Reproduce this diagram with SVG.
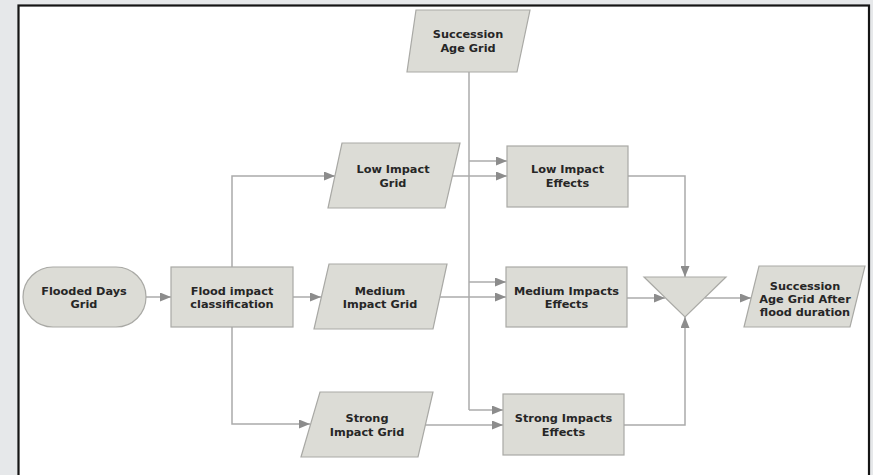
<svg xmlns="http://www.w3.org/2000/svg" width="873" height="475" viewBox="0 0 873 475">
  <style>
    .node { fill: #dcdcd6; stroke: #a9a9a5; stroke-width: 1.2; }
    .label { font-family: "DejaVu Sans", Verdana, sans-serif; font-weight: bold; font-size: 11.3px; fill: #262626; text-anchor: middle; }
    .wire { fill: none; stroke: #ababab; stroke-width: 1.5; }
    .arrow { marker-end: url(#head); }
  </style>
  <defs>
    <marker id="head" markerUnits="userSpaceOnUse" markerWidth="12" markerHeight="9" refX="11" refY="4.5" orient="auto">
      <path d="M0,0 L11,4.5 L0,9 z" fill="#8c8c8c"/>
    </marker>
  </defs>

  <!-- page backdrop and frame -->
  <rect x="0" y="0" width="873" height="475" fill="#e6e8ea"/>
  <rect x="18.5" y="5.5" width="850.5" height="480" fill="#ffffff" stroke="#151515" stroke-width="2.2"/>

  <!-- connectors -->
  <g id="connectors">
    <path class="wire arrow" d="M146,297 H171"/>
    <path class="wire arrow" d="M232,267 V176 H335"/>
    <path class="wire arrow" d="M293,297 H321"/>
    <path class="wire arrow" d="M232,327 V424 H310"/>
    <path class="wire" d="M469,72 V410"/>
    <path class="wire arrow" d="M469,161 H507"/>
    <path class="wire arrow" d="M469,282 H506"/>
    <path class="wire arrow" d="M469,410 H503"/>
    <path class="wire arrow" d="M452,176 H507"/>
    <path class="wire arrow" d="M440,297 H506"/>
    <path class="wire arrow" d="M425,425 H503"/>
    <path class="wire arrow" d="M628,176 H685 V277"/>
    <path class="wire arrow" d="M627,298 H665"/>
    <path class="wire arrow" d="M624,425 H685 V317"/>
    <path class="wire arrow" d="M705,298 H751"/>
  </g>

  <g id="succession-age-grid">
    <polygon class="node" points="416,10 530,10 517,72 407,72"/>
    <text class="label" x="468" y="38">Succession</text>
    <text class="label" x="468" y="52">Age Grid</text>
  </g>

  <g id="flooded-days-grid">
    <rect class="node" x="23" y="267" width="123" height="60" rx="30" ry="30"/>
    <text class="label" x="84" y="295">Flooded Days</text>
    <text class="label" x="84" y="308">Grid</text>
  </g>

  <g id="flood-impact-classification">
    <rect class="node" x="171" y="267" width="122" height="60"/>
    <text class="label" x="232" y="295">Flood impact</text>
    <text class="label" x="232" y="308">classification</text>
  </g>

  <g id="low-impact-grid">
    <polygon class="node" points="342,143 460,143 445,208 328,208"/>
    <text class="label" x="393" y="173">Low Impact</text>
    <text class="label" x="393" y="187">Grid</text>
  </g>

  <g id="medium-impact-grid">
    <polygon class="node" points="329,264 447,264 433,329 314,329"/>
    <text class="label" x="380" y="295">Medium</text>
    <text class="label" x="380" y="308">Impact Grid</text>
  </g>

  <g id="strong-impact-grid">
    <polygon class="node" points="320,392 433,392 418,457 301,457"/>
    <text class="label" x="367" y="422">Strong</text>
    <text class="label" x="367" y="436">Impact Grid</text>
  </g>

  <g id="low-impact-effects">
    <rect class="node" x="507" y="146" width="121" height="61"/>
    <text class="label" x="567.5" y="173">Low Impact</text>
    <text class="label" x="567.5" y="187">Effects</text>
  </g>

  <g id="medium-impacts-effects">
    <rect class="node" x="506" y="267" width="121" height="60"/>
    <text class="label" x="566.5" y="295">Medium Impacts</text>
    <text class="label" x="566.5" y="308">Effects</text>
  </g>

  <g id="strong-impacts-effects">
    <rect class="node" x="503" y="394" width="121" height="61"/>
    <text class="label" x="563.5" y="422">Strong Impacts</text>
    <text class="label" x="563.5" y="436">Effects</text>
  </g>

  <g id="merge">
    <polygon class="node" points="644,277 726,277 685,317"/>
  </g>

  <g id="succession-age-grid-after">
    <polygon class="node" points="759,266 865,266 850,327 744,327"/>
    <text class="label" x="805" y="290">Succession</text>
    <text class="label" x="805" y="303">Age Grid After</text>
    <text class="label" x="805" y="316">flood duration</text>
  </g>
</svg>
